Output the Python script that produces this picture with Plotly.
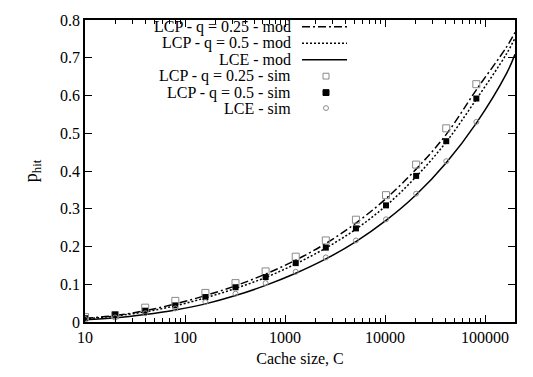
import plotly.graph_objects as go

# ---- data ----
cache_sim = [10, 20, 40, 80, 160, 320, 640, 1280, 2560, 5120, 10240, 20480, 40960, 81920]
lcp025_sim = [0.013, 0.018, 0.038, 0.056, 0.077, 0.103, 0.134, 0.173, 0.216, 0.271, 0.336, 0.417, 0.513, 0.630]
lcp05_sim = [0.010, 0.020, 0.030, 0.044, 0.066, 0.092, 0.119, 0.156, 0.197, 0.248, 0.309, 0.387, 0.479, 0.592]
lce_sim = [0.008, 0.012, 0.023, 0.036, 0.053, 0.075, 0.103, 0.133, 0.171, 0.216, 0.272, 0.340, 0.426, 0.530]

cache_mod = [10, 20, 40, 80, 160, 320, 640, 1280, 2560, 5120, 10240, 20480, 40960, 81920, 163840, 199526]
lcp025_mod = [0.010, 0.017, 0.030, 0.048, 0.070, 0.096, 0.127, 0.164, 0.208, 0.262, 0.327, 0.405, 0.497, 0.615, 0.728, 0.767]
lcp05_mod = [0.008, 0.016, 0.027, 0.043, 0.064, 0.089, 0.118, 0.154, 0.196, 0.246, 0.308, 0.385, 0.477, 0.590, 0.710, 0.752]
lce_mod = [0.006, 0.011, 0.020, 0.032, 0.048, 0.070, 0.097, 0.129, 0.167, 0.213, 0.269, 0.337, 0.422, 0.527, 0.658, 0.709]

legend_labels = ["LCP - q = 0.25 - mod", "LCP - q = 0.5 - mod", "LCE - mod",
                 "LCP - q = 0.25 - sim", "LCP - q = 0.5 - sim", "LCE - sim"]
y_ticks = [0, 0.1, 0.2, 0.3, 0.4, 0.5, 0.6, 0.7, 0.8]
x_ticks = [10, 100, 1000, 10000, 100000]

FONT = "Liberation Serif"
GRAY = "#8a8a8a"
DOT = "2px,2px"
DASHDOT = "8px,3px,2px,3px"

fig = go.Figure()
fig.add_trace(go.Scatter(x=cache_mod, y=lcp025_mod, mode="lines", line_shape="spline",
                         line=dict(color="black", width=1.5, dash=DASHDOT)))
fig.add_trace(go.Scatter(x=cache_mod, y=lcp05_mod, mode="lines", line_shape="spline",
                         line=dict(color="black", width=1.5, dash=DOT)))
fig.add_trace(go.Scatter(x=cache_mod, y=lce_mod, mode="lines", line_shape="spline",
                         line=dict(color="black", width=1.5)))
fig.add_trace(go.Scatter(x=cache_sim, y=lcp025_sim, mode="markers",
                         marker=dict(symbol="square-open", size=7, color=GRAY, line=dict(width=1))))
fig.add_trace(go.Scatter(x=cache_sim, y=lcp05_sim, mode="markers",
                         marker=dict(symbol="square", size=6, color="black")))
fig.add_trace(go.Scatter(x=cache_sim, y=lce_sim, mode="markers",
                         marker=dict(symbol="circle-open", size=5, color=GRAY, line=dict(width=1))))

# ---- custom legend (text right-aligned, sample on the right) ----
L, R, T, B = 85, 515, 13, 325
def px(xp):
    return (xp - L) / (R - L)
def py(yp):
    return (B - yp) / (B - T)

rows = [20, 37, 54, 71, 88, 104]
text_right = 293
for lbl, ry in zip(legend_labels, rows):
    fig.add_annotation(x=px(text_right), y=py(ry), xref="paper", yref="paper",
                       text=lbl, showarrow=False, xanchor="right", yanchor="middle",
                       font=dict(family=FONT, size=16, color="black"))
dashes = [DASHDOT, DOT, "solid"]
for d, ry in zip(dashes, rows[:3]):
    fig.add_shape(type="line", xref="paper", yref="paper",
                  x0=px(302), x1=px(347), y0=py(ry), y1=py(ry),
                  line=dict(color="black", width=1.5, dash=d))
mx = 326
fig.add_shape(type="rect", xref="paper", yref="paper",
              x0=px(mx - 3), x1=px(mx + 3), y0=py(rows[3] + 3), y1=py(rows[3] - 3),
              line=dict(color=GRAY, width=1))
fig.add_shape(type="rect", xref="paper", yref="paper",
              x0=px(mx - 3), x1=px(mx + 3), y0=py(rows[4] + 3), y1=py(rows[4] - 3),
              line=dict(color="black", width=1), fillcolor="black")
fig.add_shape(type="circle", xref="paper", yref="paper",
              x0=px(mx - 2.5), x1=px(mx + 2.5), y0=py(rows[5] + 2.5), y1=py(rows[5] - 2.5),
              line=dict(color=GRAY, width=1))

fig.update_layout(
    width=533, height=377,
    margin=dict(l=L, r=533 - R, t=T, b=377 - B),
    paper_bgcolor="white", plot_bgcolor="white",
    showlegend=False,
    font=dict(family=FONT, size=16, color="black"),
)
fig.update_xaxes(
    type="log", range=[1, 5.3],
    tickvals=x_ticks, ticktext=[str(v) for v in x_ticks],
    ticks="inside", ticklen=7, tickwidth=1, tickcolor="black",
    minor=dict(ticks="inside", ticklen=4, dtick="D1", tickcolor="black", showgrid=False),
    showline=True, linecolor="black", linewidth=1.5, mirror="allticks",
    showgrid=False, zeroline=False,
    title=dict(text="Cache size, C", standoff=8, font=dict(family=FONT, size=16)),
    tickfont=dict(family=FONT, size=16),
)
fig.update_yaxes(
    range=[0, 0.8],
    tickvals=y_ticks, ticktext=[("%g" % v) for v in y_ticks],
    ticks="inside", ticklen=7, tickwidth=1, tickcolor="black",
    showline=True, linecolor="black", linewidth=1.5, mirror="allticks",
    showgrid=False, zeroline=False,
    title=dict(text="p<sub>hit</sub>", standoff=18, font=dict(family=FONT, size=18)),
    tickfont=dict(family=FONT, size=16),
)

fig.write_html("out.html")
